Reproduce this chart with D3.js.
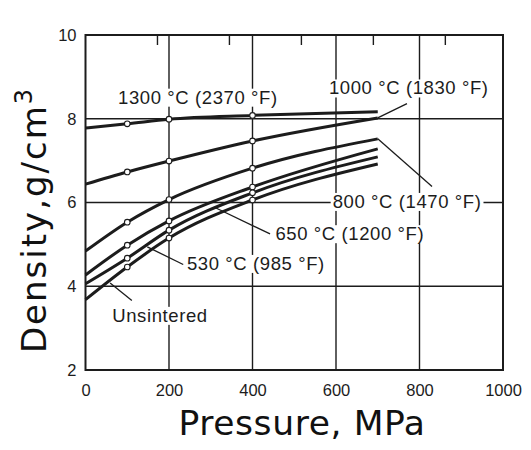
<!DOCTYPE html>
<html>
<head>
<meta charset="utf-8">
<script src="https://cdn.jsdelivr.net/npm/d3@7"></script>
<style>
  html, body { margin: 0; padding: 0; background: #fff; }
  svg { display: block; }
</style>
</head>
<body>
<svg id="chart" width="531" height="450"></svg>
<script>
// Compaction pressure (MPa) at which densities were measured
const pressures = [0, 100, 200, 400, 700];
// Measured points (circles) are at these pressures
const markedPressures = [100, 200, 400];

// Density (g/cm3) for each sintering temperature
const seriesNames = ["1300 °C (2370 °F)", "1000 °C (1830 °F)", "800 °C (1470 °F)",
                     "650 °C (1200 °F)", "530 °C (985 °F)", "Unsintered"];
const d1300 = [7.78, 7.88, 7.99, 8.08, 8.17];
const d1000 = [6.44, 6.73, 6.99, 7.47, 8.02];
const d800  = [4.84, 5.53, 6.07, 6.82, 7.52];
const d650  = [4.27, 4.98, 5.56, 6.37, 7.28];
const d530  = [4.06, 4.67, 5.34, 6.23, 7.09];
const dUns  = [3.68, 4.46, 5.15, 6.06, 6.92];

const xTicks = [0, 200, 400, 600, 800, 1000];
const yTicks = [2, 4, 6, 8, 10];
// Secondary pressure ticks along the top edge, in ksi
const ksiTicks = [25, 50, 75, 100, 125];
const MPA_PER_KSI = 6.895;

// Curve labels: baseline anchor (MPa, g/cm3) and leader line from curve to label
const labelText = ["1300 °C (2370 °F)", "1000 °C (1830 °F)", "800 °C (1470 °F)",
                   "650 °C (1200 °F)", "530 °C (985 °F)", "Unsintered"];
const labelPos = [[78, 8.36], [583, 8.58], [592, 5.87], [455, 5.10], [243, 4.39], [64, 3.15]];
const leaderFrom = [null, [700, 8.02], [700, 7.52], [310, 5.88], [148, 4.94], [59, 4.08]];
const leaderTo   = [null, [770, 8.36], [830, 6.38], [442, 5.25], [234, 4.52], [111, 3.66]];

const series = [d1300, d1000, d800, d650, d530, dUns];

const svg = d3.select("#chart");
const ink = "#1c1c1c";

const x = d3.scaleLinear().domain([0, 1000]).range([85.5, 503]);
const y = d3.scaleLinear().domain([2, 10]).range([370, 35]);

// Grid lines
const grid = svg.append("g").attr("stroke", ink).attr("stroke-width", 1.4);
grid.selectAll("line.v").data(xTicks.slice(1, -1)).join("line")
  .attr("x1", d => x(d)).attr("x2", d => x(d))
  .attr("y1", y(10)).attr("y2", y(2));
grid.selectAll("line.h").data(yTicks.slice(1, -1)).join("line")
  .attr("x1", x(0)).attr("x2", x(1000))
  .attr("y1", d => y(d)).attr("y2", d => y(d));

// Short ksi ticks hanging from the top edge
grid.selectAll("line.k").data(ksiTicks).join("line")
  .attr("x1", d => x(d * MPA_PER_KSI)).attr("x2", d => x(d * MPA_PER_KSI))
  .attr("y1", y(10)).attr("y2", y(10) + 10);

// Labels with white backing so grid lines break around them
const labels = svg.append("g")
  .attr("font-family", "'Liberation Sans', Arial, sans-serif")
  .attr("font-size", 18.5)
  .attr("letter-spacing", 0.6)
  .attr("fill", ink);

labelText.forEach((t, i) => {
  const g = labels.append("g");
  const txt = g.append("text")
    .attr("x", x(labelPos[i][0]))
    .attr("y", y(labelPos[i][1]))
    .text(t);
  const b = txt.node().getBBox();
  g.insert("rect", "text")
    .attr("x", b.x - 2).attr("y", b.y + 2)
    .attr("width", b.width + 4).attr("height", b.height - 3)
    .attr("fill", "#fff");
});

// Leader lines from curves to labels
svg.append("g").attr("stroke", ink).attr("stroke-width", 1.3).attr("fill", "none")
  .selectAll("line").data(d3.range(seriesNames.length).filter(i => leaderFrom[i])).join("line")
  .attr("x1", i => x(leaderFrom[i][0])).attr("y1", i => y(leaderFrom[i][1]))
  .attr("x2", i => x(leaderTo[i][0])).attr("y2", i => y(leaderTo[i][1]));

// Density curves
const line = d3.line()
  .x((d, i) => x(pressures[i]))
  .y(d => y(d))
  .curve(d3.curveMonotoneX);

svg.append("g").attr("fill", "none").attr("stroke", ink).attr("stroke-width", 3)
  .selectAll("path").data(series).join("path")
  .attr("d", d => line(d));

// Measured points
const pts = [];
series.forEach(s => pressures.forEach((p, i) => {
  if (markedPressures.includes(p)) pts.push([p, s[i]]);
}));
svg.append("g").selectAll("circle").data(pts).join("circle")
  .attr("cx", d => x(d[0])).attr("cy", d => y(d[1]))
  .attr("r", 2.8)
  .attr("fill", "#fff").attr("stroke", ink).attr("stroke-width", 1.1);

// Plot frame
svg.append("rect")
  .attr("x", x(0)).attr("y", y(10))
  .attr("width", x(1000) - x(0)).attr("height", y(2) - y(10))
  .attr("fill", "none").attr("stroke", ink).attr("stroke-width", 2);

// Axes (tick labels only; the frame carries the lines)
const xAxis = svg.append("g")
  .attr("transform", `translate(0,${y(2)})`)
  .call(d3.axisBottom(x).tickValues(xTicks).tickSize(0).tickPadding(14).tickFormat(d3.format("d")));
const yAxis = svg.append("g")
  .attr("transform", `translate(${x(0)},0)`)
  .call(d3.axisLeft(y).tickValues(yTicks).tickSize(0).tickPadding(9).tickFormat(d3.format("d")));
[xAxis, yAxis].forEach(a => {
  a.select(".domain").remove();
  a.selectAll("text")
    .attr("font-family", "'Liberation Sans Narrow', 'Arial Narrow', sans-serif")
    .attr("font-size", 16.5)
    .attr("fill", ink);
});

// Axis titles
svg.append("text")
  .attr("x", 302).attr("y", 435)
  .attr("text-anchor", "middle")
  .attr("font-family", "'DejaVu Sans', Verdana, sans-serif")
  .attr("font-size", 34.5)
  .attr("letter-spacing", 0.6)
  .attr("fill", "#111")
  .text("Pressure, MPa");

const yt = svg.append("text")
  .attr("transform", "translate(46,220) rotate(-90)")
  .attr("text-anchor", "middle")
  .attr("font-family", "'DejaVu Sans', Verdana, sans-serif")
  .attr("font-size", 34)
  .attr("letter-spacing", 2)
  .attr("fill", "#111");
yt.append("tspan").text("Density,g/cm");
yt.append("tspan").attr("font-size", 24).attr("dy", -14).text("3");
</script>
</body>
</html>
